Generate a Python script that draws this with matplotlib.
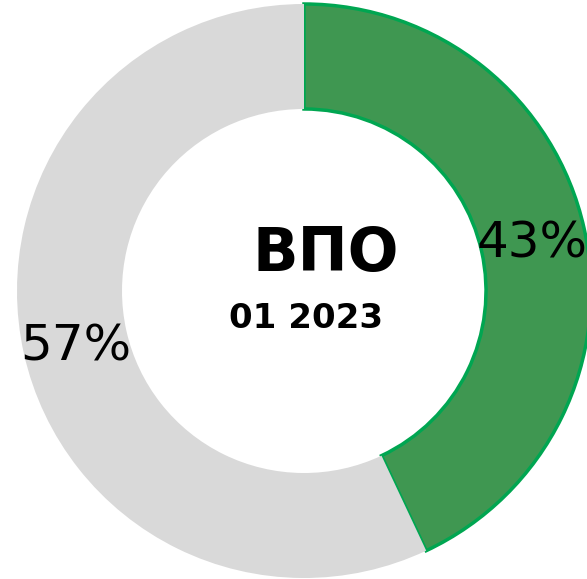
import matplotlib.pyplot as plt

# shares of the donut
labels = ["ВПО", "Другое"]
shares = [43, 57]
colors = ["#3f9751", "#d9d9d9"]
edges = ["#00a651", "none"]

W, H = 587, 579
fig = plt.figure(figsize=(W / 100, H / 100), dpi=100)
ax = fig.add_axes([0, 0, 1, 1])

cx, cy = 304, H - 291  # center in pixel units (y up)
R = 287
wedges, texts, autotexts = ax.pie(
    shares, colors=colors, startangle=90, counterclock=False,
    center=(cx, cy), radius=R, autopct="%d%%", pctdistance=0.815,
    wedgeprops=dict(width=105, linewidth=0),
    textprops=dict(fontsize=36, color="black"),
)
for w, ec in zip(wedges, edges):
    if ec != "none":
        w.set_edgecolor(ec)
        w.set_linewidth(2.5)
# nudge the percent labels down a little (bbox centring)
for t in autotexts:
    x, y = t.get_position()
    t.set_position((x, y - 4))

ax.set_xlim(0, W)
ax.set_ylim(0, H)
ax.set_aspect("auto")
ax.axis("off")

ax.text(326, H - 254, "ВПО", fontsize=43, fontweight="bold", ha="center", va="center")
ax.text(306, H - 318, "01 2023", fontsize=24.5, fontweight="bold", ha="center", va="center")

fig.savefig("out.png", dpi=100)
